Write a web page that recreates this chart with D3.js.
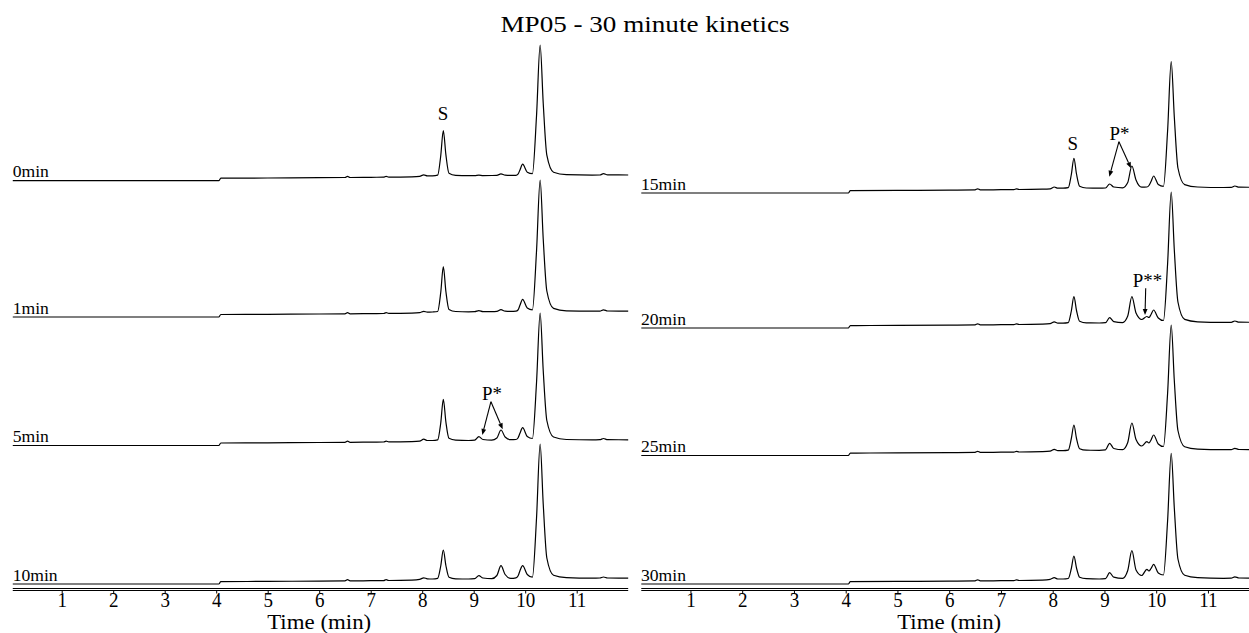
<!DOCTYPE html>
<html><head><meta charset="utf-8">
<script src="https://cdn.jsdelivr.net/npm/d3@7"></script>
<style>
html,body{margin:0;padding:0;background:#fff;}
svg{display:block;}
text{font-family:"Liberation Serif","Times New Roman",serif;fill:#000;}
</style></head><body>
<svg id="chart" width="1249" height="633" font-family="Liberation Serif, Times New Roman, serif"></svg>
<script>
// ---- data ----
const chartTitle = "MP05 - 30 minute kinetics";
const axisTitle = "Time (min)";
const tickValues = [1, 2, 3, 4, 5, 6, 7, 8, 9, 10, 11];

// retention time grid (min) shared by every chromatogram
const retentionTimes = [
  0.05, 4.05, 4.09, 5.00, 6.00, 6.50, 6.55, 6.60, 7.00, 7.25,
  7.30, 7.35, 7.80, 7.95, 8.03, 8.10, 8.20, 8.30, 8.36, 8.41,
  8.46, 8.52, 8.65, 8.90, 9.02, 9.10, 9.18, 9.35, 9.45, 9.53,
  9.61, 9.72, 9.82, 9.86, 9.90, 9.95, 10.04, 10.14, 10.22, 10.29,
  10.35, 10.42, 10.55, 10.80, 11.30, 11.45, 11.52, 11.60, 12.00
];

const leftLabels = ["0min", "1min", "5min", "10min"];
const rightLabels = ["15min", "20min", "25min", "30min"];

// detector signal (mAU) above each trace's starting baseline
const signal0min = [
  0, 0, 2.5, 2.7, 3.0, 3.2, 4.4, 3.2, 3.4, 3.5,
  4.4, 3.6, 3.9, 4.4, 5.8, 4.8, 4.9, 5.6, 25.0, 50.0,
  26.0, 7.5, 5.4, 5.0, 5.0, 5.6, 5.1, 5.2, 5.4, 6.8,
  5.5, 5.3, 5.4, 6.5, 11.0, 16.5, 8.5, 7.0, 65.0, 135.7,
  77.5, 25.5, 8.5, 6.0, 5.6, 5.7, 7.0, 5.8, 5.7
];
const signal1min = [
  0, 0, 2.5, 2.7, 3.0, 3.2, 4.3, 3.2, 3.4, 3.5,
  4.3, 3.6, 3.9, 4.4, 5.6, 4.8, 5.0, 5.5, 24.5, 50.3,
  25.5, 7.6, 5.5, 5.2, 5.3, 6.4, 5.4, 5.4, 5.6, 7.3,
  5.8, 5.6, 5.8, 7.0, 12.0, 17.7, 9.0, 7.2, 66.0, 137.0,
  78.0, 26.0, 8.6, 6.2, 5.8, 5.9, 7.2, 6.0, 5.9
];
const signal5min = [
  0, 0, 2.5, 2.7, 3.0, 3.2, 4.3, 3.2, 3.4, 3.5,
  4.3, 3.6, 3.9, 4.4, 6.3, 5.0, 5.0, 5.6, 22.5, 46.2,
  23.5, 7.2, 5.4, 5.0, 5.3, 8.8, 6.0, 5.3, 7.5, 15.5,
  8.5, 5.8, 6.0, 7.5, 12.5, 17.8, 9.0, 7.0, 63.0, 132.5,
  75.0, 25.0, 8.5, 6.0, 5.6, 5.8, 7.0, 5.8, 5.7
];
const signal10min = [
  0, 0, 2.3, 2.6, 2.9, 3.1, 4.3, 3.1, 3.3, 3.4,
  4.3, 3.5, 3.9, 4.6, 6.2, 5.2, 5.0, 5.6, 18.0, 34.0,
  18.5, 6.8, 5.2, 5.0, 5.3, 8.3, 6.0, 5.3, 8.5, 18.3,
  9.5, 5.6, 6.2, 8.0, 13.5, 18.3, 9.5, 6.8, 66.0, 140.0,
  80.0, 26.0, 8.8, 6.4, 5.8, 6.0, 7.0, 6.0, 5.9
];
const signal15min = [
  0, 0, 2.3, 2.6, 2.9, 3.1, 4.2, 3.1, 3.3, 3.4,
  4.2, 3.5, 3.8, 4.2, 6.0, 4.8, 4.8, 5.3, 18.5, 34.7,
  19.0, 6.8, 5.0, 4.8, 5.0, 9.0, 6.0, 5.2, 10.5, 27.0,
  13.0, 5.8, 6.0, 7.5, 11.5, 17.0, 8.5, 6.6, 62.0, 131.3,
  76.0, 25.0, 8.4, 6.0, 5.5, 5.6, 7.0, 5.8, 5.7
];
const signal20min = [
  0, 0, 2.4, 2.6, 2.9, 3.1, 4.2, 3.1, 3.3, 3.4,
  4.2, 3.5, 3.9, 4.4, 6.2, 4.9, 4.9, 5.4, 17.0, 31.3,
  17.5, 6.7, 5.1, 5.0, 5.3, 10.3, 6.4, 5.4, 12.0, 31.3,
  15.0, 8.5, 11.5, 10.5, 13.5, 18.0, 10.0, 7.5, 64.0, 136.0,
  78.0, 26.0, 8.6, 6.2, 5.6, 5.7, 7.0, 5.8, 5.7
];
const signal25min = [
  0, 0, 2.4, 2.6, 2.9, 3.1, 4.2, 3.1, 3.3, 3.4,
  4.2, 3.5, 3.9, 4.4, 6.2, 4.9, 4.9, 5.4, 17.0, 30.5,
  17.0, 6.8, 5.3, 5.2, 5.6, 12.2, 7.0, 5.8, 13.0, 32.5,
  16.0, 9.5, 13.8, 12.5, 15.5, 20.5, 11.5, 9.0, 62.0, 130.5,
  75.0, 25.0, 8.8, 6.4, 5.8, 5.9, 7.2, 6.0, 5.9
];
const signal30min = [
  0, 0, 2.3, 2.6, 2.9, 3.1, 4.2, 3.1, 3.3, 3.4,
  4.2, 3.5, 3.9, 4.6, 6.3, 5.0, 5.0, 5.5, 15.5, 28.0,
  16.0, 6.8, 5.3, 5.0, 5.4, 11.3, 6.8, 5.6, 13.5, 33.3,
  14.0, 8.5, 14.7, 13.0, 15.5, 19.7, 11.0, 9.0, 63.0, 130.7,
  76.0, 25.0, 8.7, 6.3, 5.7, 5.8, 7.2, 6.0, 5.9
];

// peak annotations: label position and arrow tips as (time, signal) on a trace
const peakLabels = [
  { trace: "0min",  text: "S",   t: 8.404, v: 60.7 },
  { trace: "15min", text: "S",   t: 8.386, v: 43.0 },
  { trace: "5min",  text: "P*",  t: 9.355, v: 45.5 },
  { trace: "15min", text: "P*",  t: 9.290, v: 53.0 },
  { trace: "20min", text: "P**", t: 9.830, v: 41.3 }
];
const peakArrows = [
  { trace: "5min",  from: [9.335, 43.8], to: [9.167, 10.5] },
  { trace: "5min",  from: [9.335, 43.8], to: [9.563, 16.2] },
  { trace: "15min", from: [9.280, 51.3], to: [9.094, 16.3] },
  { trace: "15min", from: [9.280, 51.3], to: [9.513, 24.7] },
  { trace: "20min", from: [9.797, 39.7], to: [9.784, 13.0] }
];

// ---- layout ----
const W = 1249, H = 633;
const axisY = 590.5;
const svg = d3.select("#chart");

const panels = [
  { labels: leftLabels,
    series: [signal0min, signal1min, signal5min, signal10min],
    range: [10.2, 628.2], baselines: [180.7, 317, 445.5, 584], labelX: 12.7 },
  { labels: rightLabels,
    series: [signal15min, signal20min, signal25min, signal30min],
    range: [638.7, 1259.7], baselines: [193, 328, 455.5, 584], labelX: 641 }
];

// signal offset: 1 mAU per pixel, upwards
const yOff = d3.scaleLinear().domain([0, 150]).range([0, -150]);

function stretched(sel, x, y, sx) {
  return sel.attr("x", 0).attr("y", 0)
    .attr("transform", `translate(${x},${y}) scale(${sx},1)`);
}

const traceIndex = {};

panels.forEach(p => {
  const x = d3.scaleLinear().domain([0, 12]).range(p.range);
  const g = svg.append("g");

  p.labels.forEach((lab, i) => {
    const base = p.baselines[i];
    traceIndex[lab] = { x, base };
    const line = d3.line()
      .x((d, j) => x(retentionTimes[j]))
      .y(d => base + yOff(d))
      .curve(d3.curveMonotoneX);
    g.append("path")
      .datum(p.series[i])
      .attr("d", line)
      .attr("fill", "none")
      .attr("stroke", "#000")
      .attr("stroke-width", 1.2)
      .attr("stroke-linejoin", "round");

    stretched(g.append("text").text(lab).attr("font-size", 16),
      p.labelX, base - 3.5, 1.1);
  });

  // double axis line
  const x0 = x(0.05), x1 = Math.min(x(12), W);
  [axisY - 2, axisY].forEach(yy => {
    g.append("line").attr("x1", x0).attr("x2", x1)
      .attr("y1", yy).attr("y2", yy)
      .attr("stroke", "#000").attr("stroke-width", 1);
  });

  const axis = d3.axisBottom(x).tickValues(tickValues).tickSize(3)
    .tickFormat(d3.format("d"));
  const ag = g.append("g").attr("transform", `translate(0,${axisY})`).call(axis);
  ag.select(".domain").remove();
  ag.attr("font-family", null).attr("font-size", null);
  ag.selectAll(".tick line").attr("stroke", "#000");
  ag.selectAll(".tick text")
    .attr("y", 0).attr("dy", null)
    .style("font-size", "19px")
    .attr("fill", "#000")
    .attr("transform", "translate(0,16) scale(1,1.05)");

  g.append("text").text(axisTitle)
    .attr("text-anchor", "middle")
    .attr("font-size", 21)
    .call(s => stretched(s, x(6), 628.5, 1.09));
});

// title
svg.append("text").text(chartTitle)
  .attr("text-anchor", "middle")
  .attr("font-size", 24)
  .call(s => stretched(s, 645, 31.7, 1.13));

// peak labels
peakLabels.forEach(a => {
  const tr = traceIndex[a.trace];
  svg.append("text").text(a.text)
    .attr("text-anchor", "middle")
    .attr("font-size", 18)
    .call(s => stretched(s, tr.x(a.t), tr.base + yOff(a.v), 1.05));
});

// arrows
peakArrows.forEach(a => {
  const tr = traceIndex[a.trace];
  const sx = tr.x(a.from[0]), sy = tr.base + yOff(a.from[1]);
  const ex = tr.x(a.to[0]), ey = tr.base + yOff(a.to[1]);
  const dx = ex - sx, dy = ey - sy, len = Math.hypot(dx, dy);
  const ux = dx / len, uy = dy / len;
  const headL = 6, headW = 2.4;
  const bx = ex - ux * headL, by = ey - uy * headL;
  svg.append("line").attr("x1", sx).attr("y1", sy).attr("x2", bx).attr("y2", by)
    .attr("stroke", "#000").attr("stroke-width", 1.1);
  svg.append("path")
    .attr("d", `M${ex},${ey}L${bx - uy * headW},${by + ux * headW}L${bx + uy * headW},${by - ux * headW}Z`)
    .attr("fill", "#000");
});
</script>
</body></html>
